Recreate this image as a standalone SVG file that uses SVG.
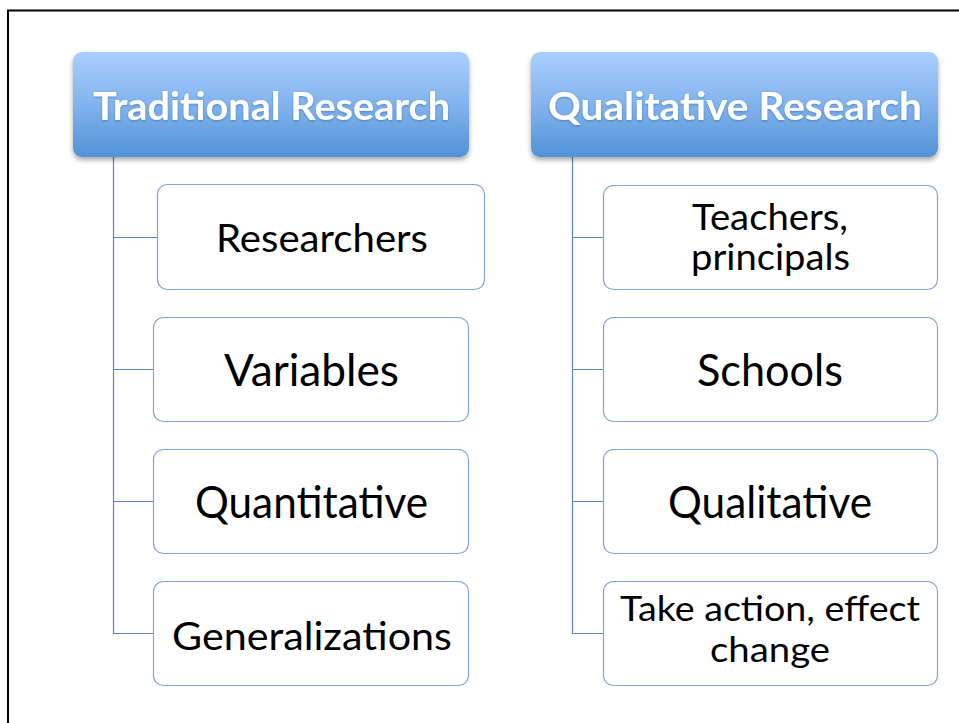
<svg xmlns="http://www.w3.org/2000/svg" width="959" height="723" viewBox="0 0 959 723">
<defs>
<linearGradient id="hdr" x1="0" y1="0" x2="0" y2="1">
<stop offset="0" stop-color="#aacffd"/>
<stop offset="0.5" stop-color="#82b3ee"/>
<stop offset="1" stop-color="#5193d6"/>
</linearGradient>
<filter id="shadow" x="-10%" y="-10%" width="120%" height="130%">
<feDropShadow dx="0" dy="3" stdDeviation="2.5" flood-color="#000" flood-opacity="0.35"/>
</filter>
<filter id="tshadow" x="-5%" y="-20%" width="110%" height="150%">
<feDropShadow dx="0" dy="1" stdDeviation="1" flood-color="#1d4f8a" flood-opacity="0.45"/>
</filter>
</defs>
<style>
.hdr{fill:url(#hdr);filter:url(#shadow);}
.hdrt{font-family:Lato,"Open Sans",sans-serif;font-weight:bold;font-size:39px;fill:#fff;filter:url(#tshadow);}
.box{fill:#fff;stroke:#7ea6d8;stroke-width:1.2;}
.t{font-family:Lato,"Open Sans",sans-serif;fill:#000;text-anchor:start;}
.conn{stroke:#5b87bf;stroke-width:1.2;fill:none;}
</style>
<rect x="0" y="0" width="959" height="723" fill="#fff"/>
<path d="M8 723 V10.5 H959" fill="none" stroke="#000" stroke-width="2"/>

<g id="connectors">
<path class="conn" d="M113.5 157 V633.5 H153 M113.5 237.5 H157 M113.5 369.5 H153 M113.5 501.5 H153"/>
<path class="conn" d="M572.5 157 V633.5 H603 M572.5 237.5 H603 M572.5 369.5 H603 M572.5 501.5 H603"/>
</g>

<g id="node-traditional">
<rect class="hdr" x="73" y="52" width="396" height="105" rx="9"/>
<text class="hdrt" x="93" y="120" textLength="357" lengthAdjust="spacingAndGlyphs">Traditional Research</text>
</g>
<g id="node-qualitative-research">
<rect class="hdr" x="531" y="52" width="407" height="105" rx="9"/>
<text class="hdrt" x="548" y="120" textLength="374" lengthAdjust="spacingAndGlyphs">Qualitative Research</text>
</g>

<g id="node-researchers">
<rect class="box" x="157.5" y="184.5" width="327" height="105" rx="10"/>
<text class="t" x="216" y="252" font-size="38" textLength="212" lengthAdjust="spacingAndGlyphs">Researchers</text>
</g>
<g id="node-variables">
<rect class="box" x="153.5" y="317.5" width="315" height="104" rx="10"/>
<text class="t" x="224" y="386" font-size="44" textLength="175" lengthAdjust="spacingAndGlyphs">Variables</text>
</g>
<g id="node-quantitative">
<rect class="box" x="153.5" y="449.5" width="315" height="104" rx="10"/>
<text class="t" x="195" y="518" font-size="44" textLength="233" lengthAdjust="spacingAndGlyphs">Quantitative</text>
</g>
<g id="node-generalizations">
<rect class="box" x="153.5" y="581.5" width="315" height="104" rx="10"/>
<text class="t" x="172" y="650" font-size="38" textLength="280" lengthAdjust="spacingAndGlyphs">Generalizations</text>
</g>

<g id="node-teachers">
<rect class="box" x="603.5" y="185.5" width="334" height="104" rx="10"/>
<text class="t" x="692" y="230" font-size="36" textLength="156" lengthAdjust="spacingAndGlyphs">Teachers,</text>
<text class="t" x="691" y="270" font-size="36" textLength="159" lengthAdjust="spacingAndGlyphs">principals</text>
</g>
<g id="node-schools">
<rect class="box" x="603.5" y="317.5" width="334" height="104" rx="10"/>
<text class="t" x="697" y="386" font-size="44" textLength="146" lengthAdjust="spacingAndGlyphs">Schools</text>
</g>
<g id="node-qualitative">
<rect class="box" x="603.5" y="449.5" width="334" height="104" rx="10"/>
<text class="t" x="668" y="518" font-size="44" textLength="204" lengthAdjust="spacingAndGlyphs">Qualitative</text>
</g>
<g id="node-take-action">
<rect class="box" x="603.5" y="581.5" width="334" height="104" rx="10"/>
<text class="t" x="620" y="621" font-size="35" textLength="300" lengthAdjust="spacingAndGlyphs">Take action, effect</text>
<text class="t" x="710" y="662" font-size="35" textLength="120" lengthAdjust="spacingAndGlyphs">change</text>
</g>
</svg>
